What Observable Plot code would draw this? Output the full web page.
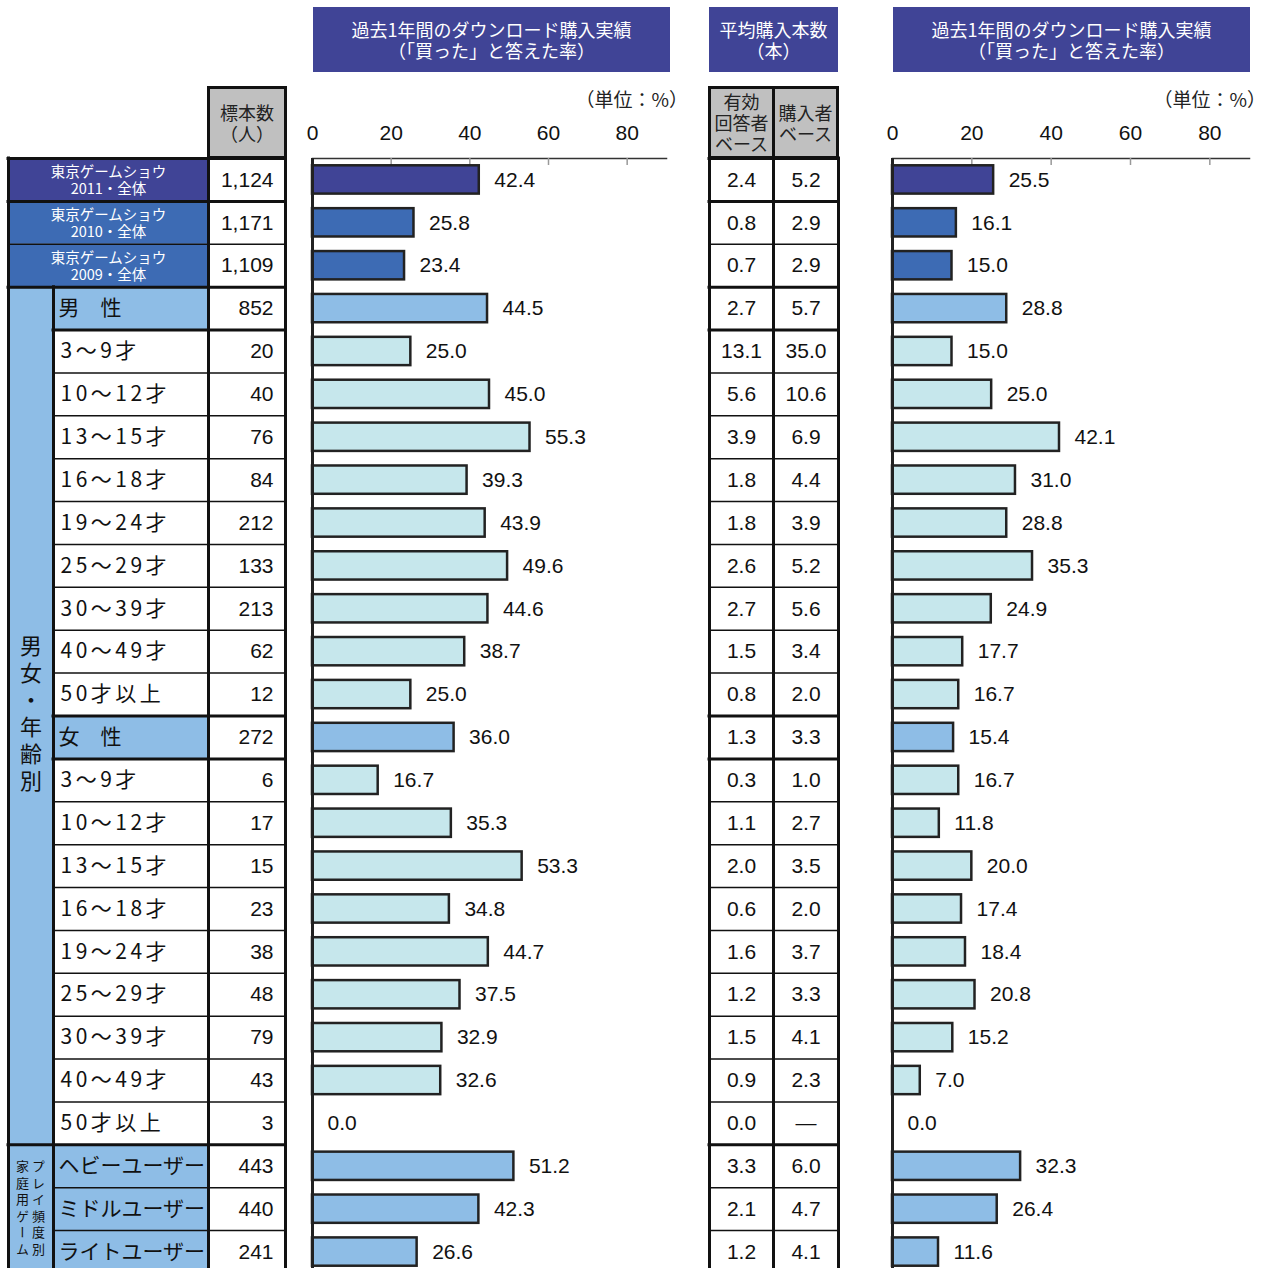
<!DOCTYPE html>
<html><head><meta charset="utf-8">
<script src="https://cdn.jsdelivr.net/npm/d3@7"></script>
<script src="https://cdn.jsdelivr.net/npm/@observablehq/plot@0.6"></script>
<style>
body{margin:0;background:#fff;}
#wrap{position:relative;width:1267px;height:1268px;overflow:hidden;font-family:"Noto Sans CJK JP",sans-serif;}
#wrap svg{position:absolute;left:0;top:0;}
.title{position:absolute;background:#404496;color:#fff;font-size:18px;line-height:21px;text-align:center;display:flex;flex-direction:column;justify-content:center;}
.hdr{position:absolute;background:#C0C0C0;border:3px solid #111;box-sizing:border-box;color:#222;font-size:18px;line-height:21px;text-align:center;display:flex;flex-direction:column;justify-content:center;}
.unit{position:absolute;font-size:19px;line-height:22px;color:#222;white-space:nowrap;text-align:right;width:120px;}
g[aria-description="age"] text{letter-spacing:3.5px;}
g[aria-description="vert"] text{writing-mode:vertical-rl;letter-spacing:5px;}
g[aria-description="vert2"] text{writing-mode:vertical-rl;letter-spacing:3.5px;}
</style>
</head><body>
<div id="wrap">
  <div class="title" style="left:313px;top:7px;width:357px;height:65px;">過去1年間のダウンロード購入実績<br>（「買った」と答えた率）</div>
  <div class="title" style="left:709px;top:7px;width:129px;height:65px;">平均購入本数<br>（本）</div>
  <div class="title" style="left:893px;top:7px;width:357px;height:65px;">過去1年間のダウンロード購入実績<br>（「買った」と答えた率）</div>
  <div class="hdr" style="left:207px;top:86px;width:80px;height:73px;">標本数<br>（人）</div>
  <div class="hdr" style="left:708px;top:86px;width:67px;height:73px;">有効<br>回答者<br>ベース</div>
  <div class="hdr" style="left:772px;top:86px;width:67px;height:73px;">購入者<br>ベース</div>
  <div class="unit" style="left:568px;top:88px;">（単位：%）</div>
  <div class="unit" style="left:1146px;top:88px;">（単位：%）</div>
</div>
<script>
// ---------- data ----------
const categories = [
  "東京ゲームショウ\n2011・全体", "東京ゲームショウ\n2010・全体", "東京ゲームショウ\n2009・全体",
  "男　性", "3～9才", "10～12才", "13～15才", "16～18才", "19～24才", "25～29才", "30～39才", "40～49才", "50才以上",
  "女　性", "3～9才", "10～12才", "13～15才", "16～18才", "19～24才", "25～29才", "30～39才", "40～49才", "50才以上",
  "ヘビーユーザー", "ミドルユーザー", "ライトユーザー"
];
const rowTypes = [
  "tgs2011", "tgs", "tgs",
  "gender", "age", "age", "age", "age", "age", "age", "age", "age", "age",
  "gender", "age", "age", "age", "age", "age", "age", "age", "age", "age",
  "freq", "freq", "freq"
];
const sampleSizes = [1124, 1171, 1109, 852, 20, 40, 76, 84, 212, 133, 213, 62, 12, 272, 6, 17, 15, 23, 38, 48, 79, 43, 3, 443, 440, 241];
const purchaseRateA = [42.4, 25.8, 23.4, 44.5, 25.0, 45.0, 55.3, 39.3, 43.9, 49.6, 44.6, 38.7, 25.0, 36.0, 16.7, 35.3, 53.3, 34.8, 44.7, 37.5, 32.9, 32.6, 0.0, 51.2, 42.3, 26.6];
const avgValid = [2.4, 0.8, 0.7, 2.7, 13.1, 5.6, 3.9, 1.8, 1.8, 2.6, 2.7, 1.5, 0.8, 1.3, 0.3, 1.1, 2.0, 0.6, 1.6, 1.2, 1.5, 0.9, 0.0, 3.3, 2.1, 1.2];
const avgBuyer = [5.2, 2.9, 2.9, 5.7, 35.0, 10.6, 6.9, 4.4, 3.9, 5.2, 5.6, 3.4, 2.0, 3.3, 1.0, 2.7, 3.5, 2.0, 3.7, 3.3, 4.1, 2.3, null, 6.0, 4.7, 4.1];
const purchaseRateB = [25.5, 16.1, 15.0, 28.8, 15.0, 25.0, 42.1, 31.0, 28.8, 35.3, 24.9, 17.7, 16.7, 15.4, 16.7, 11.8, 20.0, 17.4, 18.4, 20.8, 15.2, 7.0, 0.0, 32.3, 26.4, 11.6];
const xTicks = [0, 20, 40, 60, 80];
const groupLabel = "男女・年齢別";
const freqLabelA = "プレイ頻度別";
const freqLabelB = "家庭用ゲーム";

// ---------- styles / layout ----------
const colors = {tgs2011: "#404496", tgs: "#3D6BB4", gender: "#8EBDE6", freq: "#8EBDE6", age: "#C6E7EC"};
const W = 1267, H = 1273, TOP = 158;
const C = {x0: 8, xg: 53, xl: 208, xn: 285, m0: 709, m1: 773, m2: 838};
const numFont = "Liberation Sans, Arial, sans-serif";
const jpFont = "Noto Sans CJK JP, sans-serif";
const N = categories.length;
const rows = categories.map((label, i) => ({
  i, label, type: rowTypes[i], n: sampleSizes[i], a: purchaseRateA[i],
  v: avgValid[i], b: avgBuyer[i], r: purchaseRateB[i]
}));
const isTgs = t => t.startsWith("tgs");

// ---------- table ----------
const cells = [];
rows.forEach(d => {
  cells.push({x1: isTgs(d.type) ? C.x0 : C.xg, x2: C.xl, y1: d.i, y2: d.i + 1,
    fill: d.type === "age" ? "#fff" : colors[d.type]});
  cells.push({x1: C.xl, x2: C.xn, y1: d.i, y2: d.i + 1, fill: "#fff"});
  cells.push({x1: C.m0, x2: C.m1, y1: d.i, y2: d.i + 1, fill: "#fff"});
  cells.push({x1: C.m1, x2: C.m2, y1: d.i, y2: d.i + 1, fill: "#fff"});
});
const gStart = rowTypes.indexOf("gender"), fStart = rowTypes.indexOf("freq");
const groups = [
  {y1: gStart, y2: fStart, xs: [(C.x0 + C.xg) / 2], texts: [groupLabel]},
  {y1: fStart, y2: N, xs: [38, 22], texts: [freqLabelA, freqLabelB]}
];
groups.forEach(g => cells.push({x1: C.x0, x2: C.xg, y1: g.y1, y2: g.y2, fill: colors.gender}));

const grp = t => isTgs(t) ? "tgs" : (t === "freq" ? "freq" : "ga");
const hLines = [];
for (let b = 0; b <= N; b++) {
  const tA = b > 0 ? rowTypes[b - 1] : null, tB = b < N ? rowTypes[b] : null;
  const thick = tA === null || tB === null || tA !== tB;
  const merged = tA && tB && !isTgs(tA) && !isTgs(tB) && grp(tA) === grp(tB);
  hLines.push({y: b, x1: merged ? C.xg : C.x0, x2: C.xn, thick});
  hLines.push({y: b, x1: C.m0, x2: C.m2, thick});
}
const vLines = [
  {x: C.x0, y1: 0, y2: N}, {x: C.xg, y1: gStart, y2: N}, {x: C.xl, y1: 0, y2: N}, {x: C.xn, y1: 0, y2: N},
  {x: C.m0, y1: 0, y2: N}, {x: C.m1, y1: 0, y2: N}, {x: C.m2, y1: 0, y2: N}
];
const fmt = d3.format(",");
const tableSvg = Plot.plot({
  width: W, height: H, margin: 0,
  style: {background: "none"},
  x: {type: "linear", domain: [0, W], range: [0, W], axis: null},
  y: {type: "linear", domain: [0, N], range: [TOP, H], axis: null},
  marks: [
    Plot.rect(cells, {x1: "x1", x2: "x2", y1: "y1", y2: "y2", fill: d => d.fill}),
    Plot.ruleY(hLines.filter(d => !d.thick), {y: "y", x1: "x1", x2: "x2", stroke: "#111", strokeWidth: 1.5}),
    Plot.ruleY(hLines.filter(d => d.thick), {y: "y", x1: "x1", x2: "x2", stroke: "#111", strokeWidth: 3, strokeLinecap: "square"}),
    Plot.ruleX(vLines, {x: "x", y1: "y1", y2: "y2", stroke: "#111", strokeWidth: 3, strokeLinecap: "square"}),
    Plot.text(rows.filter(d => isTgs(d.type)), {x: () => (C.x0 + C.xl) / 2, y: d => d.i + 0.5, text: "label",
      fill: "#fff", fontSize: 14.5, lineHeight: 1.2, fontFamily: jpFont}),
    Plot.text(rows.filter(d => d.type === "age"), {x: () => C.xg + 7, y: d => d.i + 0.5, text: "label",
      textAnchor: "start", fill: "#111", fontSize: 21, fontFamily: jpFont, ariaDescription: "age"}),
    Plot.text(rows.filter(d => d.type === "gender" || d.type === "freq"), {x: () => C.xg + 5, y: d => d.i + 0.5, text: "label",
      textAnchor: "start", fill: "#111", fontSize: 21, fontFamily: jpFont}),
    Plot.text(rows, {x: () => C.xn - 12, y: d => d.i + 0.5, text: d => fmt(d.n), textAnchor: "end",
      fill: "#111", fontSize: 21, fontFamily: numFont}),
    Plot.text(rows, {x: () => (C.m0 + C.m1) / 2, y: d => d.i + 0.5, text: d => d.v.toFixed(1),
      fill: "#111", fontSize: 21, fontFamily: numFont}),
    Plot.text(rows, {x: () => (C.m1 + C.m2) / 2, y: d => d.i + 0.5, text: d => d.b == null ? "—" : d.b.toFixed(1),
      fill: "#111", fontSize: 21, fontFamily: numFont}),
    Plot.text(groups.slice(0, 1), {x: d => d.xs[0], y: d => (d.y1 + d.y2) / 2, text: d => d.texts[0],
      fill: "#111", fontSize: 22, fontFamily: jpFont, lineAnchor: "bottom", ariaDescription: "vert"}),
    Plot.text(groups.slice(1).flatMap(g => g.texts.map((t, k) => ({x: g.xs[k], y: (g.y1 + g.y2) / 2, t}))),
      {x: "x", y: "y", text: "t", fill: "#111", fontSize: 13, fontFamily: jpFont, lineAnchor: "bottom", ariaDescription: "vert2"})
  ]
});

// ---------- bar charts ----------
function barChart(values, ml, mr) {
  const data = rows.map(d => ({key: d.i, v: values[d.i], type: d.type}));
  return Plot.plot({
    width: W, height: H, marginLeft: ml, marginRight: mr, marginTop: TOP, marginBottom: 0,
    style: {background: "none", fontFamily: numFont},
    x: {domain: [0, 90]},
    y: {type: "band", domain: d3.range(N), paddingInner: 0.34, paddingOuter: 0.17, round: false, axis: null},
    color: {type: "identity"},
    marks: [
      Plot.frame({anchor: "top", stroke: "#333", strokeWidth: 1.5}),
      Plot.ruleX(xTicks.filter(t => t > 0), {stroke: "#999", strokeWidth: 1.5, insetBottom: H - TOP - 7}),
      Plot.axisX({anchor: "top", ticks: xTicks, tickSize: 0, tickPadding: 19, fontSize: 21, label: null, fill: "#111"}),
      Plot.barX(data.filter(d => d.v > 0), {x: "v", y: "key", fill: d => colors[d.type], stroke: "#222", strokeWidth: 2.5}),
      Plot.ruleX([0], {stroke: "#222", strokeWidth: 3}),
      Plot.text(data, {x: "v", y: "key", text: d => d.v.toFixed(1), dx: 15, textAnchor: "start", fontSize: 21, fill: "#111"})
    ]
  });
}
const wrap = document.getElementById("wrap");
wrap.prepend(tableSvg);
wrap.append(barChart(purchaseRateA, 312, W - 666));
wrap.append(barChart(purchaseRateB, 892, W - 1249));
</script>
</body></html>
